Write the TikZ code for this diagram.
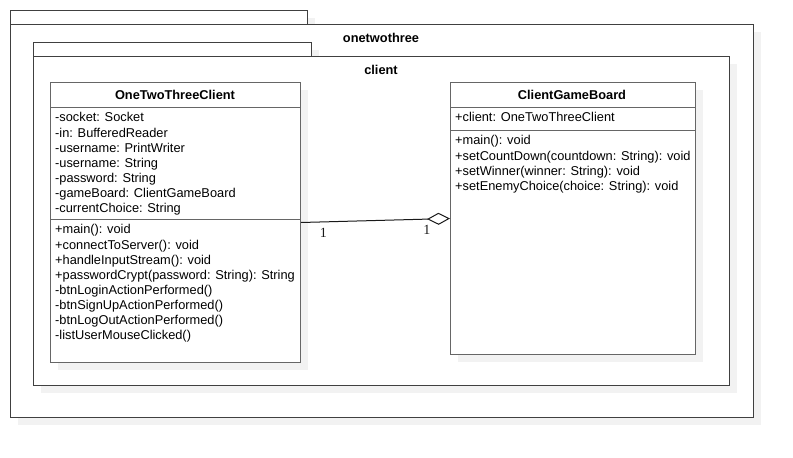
\documentclass[tikz,border=0pt]{standalone}
\usepackage{fontspec}
\setmainfont{Liberation Sans}
\newfontfamily\multfont{Liberation Serif}
\usetikzlibrary{arrows.meta,shadows,positioning}

\begin{document}
\begin{tikzpicture}[x=1pt,y=-1pt,
  shade/.style={drop shadow={shadow xshift=7pt,shadow yshift=-7pt,fill=black!5,opacity=1}},
  pkg/.style={draw=black!75,line width=1pt,fill=white,inner sep=0pt,anchor=north west,shade},
  cls/.style={draw=black!60,line width=1pt,fill=white,inner sep=0pt,anchor=north west,shade},
  title/.style={font=\bfseries\fontsize{12.8}{15}\selectfont,inner sep=0pt},
  members/.style={anchor=north west,align=left,inner sep=0pt,font=\fontsize{12.8}{15.1}\selectfont},
  mult/.style={font=\multfont\fontsize{14}{15}\selectfont,inner sep=0pt}
  ]
  \useasboundingbox (0,0) rectangle (793,458);

  \node[pkg,minimum width=297pt,minimum height=14pt] (onetwothree-tab) at (10,10) {};
  \node[pkg,minimum width=743pt,minimum height=393pt] (onetwothree) at (10,24) {};
  \node[title] at (381,38) {onetwothree};
  \node[pkg,minimum width=278pt,minimum height=14pt] (client-tab) at (33,42) {};
  \node[pkg,minimum width=696pt,minimum height=329pt] (client) at (33,56) {};
  \node[title] at (381,70) {client};

  \node[cls,minimum width=250pt,minimum height=280pt] (c1) at (50,82) {};
  \node[title] at (175,95) {OneTwoThreeClient};
  \draw[black!60,line width=1pt] (50,107) -- (300,107) (50,219) -- (300,219);
  \node[members] at (55,112.5) {-socket: Socket\\-in: BufferedReader\\-username: PrintWriter\\-username: String\\-password: String\\-gameBoard: ClientGameBoard\\-currentChoice: String};
  \node[members] at (55,224.5) {+main(): void\\+connectToServer(): void\\+handleInputStream(): void\\+passwordCrypt(password: String): String\\-btnLoginActionPerformed()\\-btnSignUpActionPerformed()\\-btnLogOutActionPerformed()\\-listUserMouseClicked()};

  \node[cls,minimum width=245pt,minimum height=272pt] (c2) at (450,82) {};
  \node[title] at (572,95) {ClientGameBoard};
  \draw[black!60,line width=1pt] (450,107) -- (695,107) (450,130) -- (695,130);
  \node[members] at (455,112.5) {+client: OneTwoThreeClient};
  \node[members] at (455,135.5) {+main(): void\\+setCountDown(countdown: String): void\\+setWinner(winner: String): void\\+setEnemyChoice(choice: String): void};

  \path[{Diamond[open,fill=white,length=23pt,width=12pt]}-,black!90,line width=1pt]
    (c2.west) edge node[mult,pos=0.155,below=6pt] {1} node[mult,pos=0.85,below=6pt] {1} (c1.east);
\end{tikzpicture}
\end{document}
